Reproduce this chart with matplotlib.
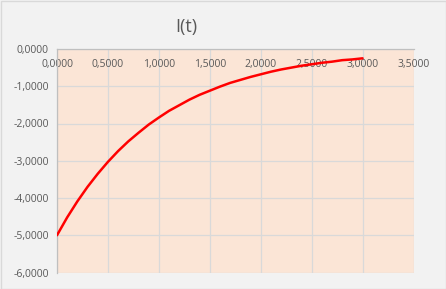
import matplotlib
matplotlib.use("Agg")
import matplotlib.pyplot as plt
from matplotlib.ticker import FuncFormatter, MultipleLocator

t_values = [0.0, 0.1, 0.2, 0.3, 0.4, 0.5, 0.6, 0.7, 0.8, 0.9, 1.0,
            1.1, 1.2, 1.3, 1.4, 1.5, 1.6, 1.7, 1.8, 1.9, 2.0,
            2.1, 2.2, 2.3, 2.4, 2.5, 2.6, 2.7, 2.8, 2.9, 3.0]
i_values = [-5.00, -4.52, -4.09, -3.70, -3.35, -3.03, -2.74, -2.48, -2.25, -2.03, -1.84,
            -1.66, -1.51, -1.36, -1.23, -1.12, -1.01, -0.91, -0.83, -0.75, -0.68,
            -0.61, -0.55, -0.50, -0.45, -0.41, -0.37, -0.34, -0.30, -0.28, -0.25]
title = "I(t)"

W, H = 446, 289
fig = plt.figure(figsize=(W / 100, H / 100), dpi=100)
fig.patch.set_facecolor("#f2f2f2")

# plot area in pixels
x0, x1 = 57, 413.5
y0, y1 = 49, 272.5
ax = fig.add_axes([x0 / W, 1 - y1 / H, (x1 - x0) / W, (y1 - y0) / H])
ax.set_facecolor("#fbe5d6")

ax.plot(t_values, i_values, color="#ff0000", lw=1.8, solid_capstyle="round", zorder=3)

ax.set_xlim(0, 3.5)
ax.set_ylim(-6, 0)
ax.xaxis.set_major_locator(MultipleLocator(0.5))
ax.yaxis.set_major_locator(MultipleLocator(1))
fmt = FuncFormatter(lambda v, p: f"{v:.4f}".replace(".", ",").replace("-0,0000", "0,0000"))
ax.xaxis.set_major_formatter(fmt)
ax.yaxis.set_major_formatter(fmt)

ax.grid(True, color="#d9d9d9", lw=0.9, zorder=0)
ax.set_axisbelow(True)

for s in ["right", "bottom"]:
    ax.spines[s].set_visible(False)
for s in ["left", "top"]:
    ax.spines[s].set_color("#bfbfbf")
    ax.spines[s].set_linewidth(0.9)

font = "Open Sans"
ax.tick_params(axis="both", length=0, labelsize=7.5, labelcolor="#595959")
ax.tick_params(axis="x", top=False, bottom=False, labeltop=True, labelbottom=False, pad=-15)
ax.tick_params(axis="y", pad=6)
for lab in ax.get_xticklabels() + ax.get_yticklabels():
    lab.set_fontfamily(font)

fig.text(186 / W, 1 - 27 / H, title, ha="center", va="center", fontsize=13,
         color="#595959", fontfamily=font)

# chart border
fig.add_artist(plt.Rectangle((0.5 / W, 0.5 / H), 1 - 1 / W, 1 - 1 / H, transform=fig.transFigure,
                             fill=False, edgecolor="#d9d9d9", lw=1))

fig.savefig("out.png", dpi=100, facecolor=fig.get_facecolor())
